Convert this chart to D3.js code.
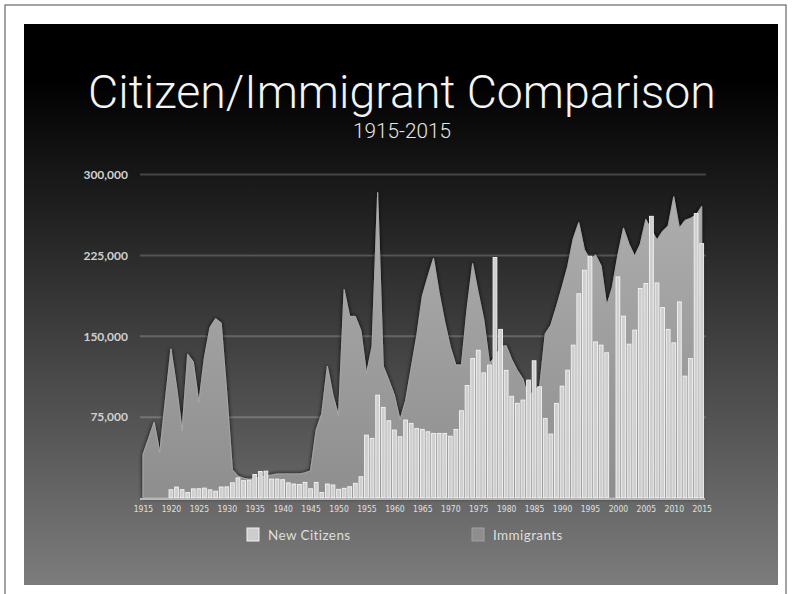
<!DOCTYPE html>
<html>
<head>
<meta charset="utf-8">
<script src="https://cdn.jsdelivr.net/npm/d3@7"></script>
<style>
  html, body { margin: 0; padding: 0; background: #fff; }
  svg { display: block; }
</style>
</head>
<body>
<svg id="chart" width="793" height="594"></svg>
<script>
const years = [1915,1916,1917,1918,1919,1920,1921,1922,1923,1924,1925,1926,1927,1928,1929,1930,1931,1932,1933,1934,1935,1936,1937,1938,1939,1940,1941,1942,1943,1944,1945,1946,1947,1948,1949,1950,1951,1952,1953,1954,1955,1956,1957,1958,1959,1960,1961,1962,1963,1964,1965,1966,1967,1968,1969,1970,1971,1972,1973,1974,1975,1976,1977,1978,1979,1980,1981,1982,1983,1984,1985,1986,1987,1988,1989,1990,1991,1992,1993,1994,1995,1996,1997,1998,1999,2000,2001,2002,2003,2004,2005,2006,2007,2008,2009,2010,2011,2012,2013,2014,2015];

const newCitizens = [0,0,0,0,0,
 7400,9900,7500,4800,8200,8300,8900,7300,6100,9900,
 10000,13800,18300,15800,16300,21500,24300,24600,17300,17300,
 16700,13800,12700,12300,14200,8300,14200,4800,12700,11800,
 7800,8700,10200,13300,19400,58000,55000,95000,83700,71300,
 62700,56500,72000,68900,64200,63300,61100,59600,59600,59600,
 57000,63300,80600,104000,129000,136700,115700,122900,222600,156000,
 118000,94000,87500,90500,109000,126900,102800,73500,59000,87400,
 103400,118200,141400,189000,210800,223800,144400,141400,134300,null,
 204600,168300,142300,155300,193900,198500,260800,199000,176200,156000,
 143500,181500,112700,129000,263300,235500];

const immigrants = [40000,55000,70000,42000,90000,
 138000,103000,62000,133000,126000,88000,130000,158000,166000,162000,
 97000,26000,20000,18000,17000,18000,19000,20000,21000,22000,
 22000,22000,22000,22000,23000,25000,63000,78000,122000,95000,
 76000,193000,168000,168000,155000,115000,140000,283000,122000,109000,
 95000,72000,90000,120000,150000,187000,205000,222000,190000,163000,
 140000,123000,123000,175000,217000,190000,165000,125000,130000,140000,
 141000,128000,118000,110000,92000,100000,103000,152000,160000,177000,
 195000,214000,240000,255000,230000,221000,225000,215000,178000,195000,
 225000,250000,235000,224000,235000,258000,248000,239000,247000,252000,
 279000,250000,257000,259000,262000,270000];

const yTicks = [75000, 150000, 225000, 300000];
const xTickYears = [1915,1920,1925,1930,1935,1940,1945,1950,1955,1960,1965,1970,1975,1980,1985,1990,1995,2000,2005,2010,2015];
const seriesNames = ["New Citizens", "Immigrants"];
const titleText = "Citizen/Immigrant Comparison";
const subtitleText = "1915-2015";

const svg = d3.select("#chart");
const defs = svg.append("defs");

const bg = defs.append("linearGradient").attr("id","bgGrad").attr("x1",0).attr("y1",0).attr("x2",0).attr("y2",1);
bg.append("stop").attr("offset","0%").attr("stop-color","#000");
bg.append("stop").attr("offset","10%").attr("stop-color","#000");
bg.append("stop").attr("offset","100%").attr("stop-color","#7c7c7c");

const ag = defs.append("linearGradient").attr("id","areaGrad").attr("gradientUnits","userSpaceOnUse")
  .attr("x1",0).attr("y1",174).attr("x2",0).attr("y2",498);
ag.append("stop").attr("offset","0%").attr("stop-color","#b0b0b0");
ag.append("stop").attr("offset","100%").attr("stop-color","#8e8e8e");

const sh = defs.append("filter").attr("id","shadow").attr("x","-5%").attr("y","-10%").attr("width","110%").attr("height","120%");
sh.append("feGaussianBlur").attr("in","SourceAlpha").attr("stdDeviation",2.2).attr("result","blur");
sh.append("feComponentTransfer").attr("in","blur").attr("result","dark")
  .append("feFuncA").attr("type","linear").attr("slope",0.9);
const m = sh.append("feMerge");
m.append("feMergeNode").attr("in","dark");
m.append("feMergeNode").attr("in","SourceGraphic");

// frame
svg.append("rect").attr("x",5).attr("y",5).attr("width",781).attr("height",600)
  .attr("fill","#fff").attr("stroke","#666").attr("stroke-width",1.2);
svg.append("rect").attr("x",24).attr("y",24).attr("width",754).attr("height",561)
  .attr("fill","url(#bgGrad)");

// scales
const x = d3.scaleBand().domain(years).range([140.2, 704.5]).paddingInner(0.32).paddingOuter(0.16);
const xc = d => x(d) + x.bandwidth()/2;
const y = d3.scaleLinear().domain([0, 300000]).range([497.7, 174]);

// gridlines
const grid = svg.append("g")
  .call(d3.axisLeft(y).tickValues(yTicks).tickSize(-566).tickFormat(""))
  .attr("transform","translate(140,0)");
grid.select(".domain").remove();
grid.selectAll("line").attr("stroke","#fff").attr("stroke-opacity",0.2).attr("stroke-width",2);

// immigrants area
const area = d3.area()
  .x((d,i) => xc(years[i]))
  .y0(y(0))
  .y1(d => y(d))
  .curve(d3.curveLinear);
svg.append("path").datum(immigrants)
  .attr("d", area)
  .attr("fill","url(#areaGrad)")
  .attr("stroke","#a8a8a8").attr("stroke-width",1).attr("stroke-linejoin","round")
  .attr("filter","url(#shadow)");

// new citizens bars
const barData = years.map((yr,i) => ({year: yr, v: newCitizens[i]})).filter(d => d.v != null && d.v > 0);
svg.append("g").selectAll("rect").data(barData).join("rect")
  .attr("x", d => x(d.year))
  .attr("y", d => y(d.v))
  .attr("width", x.bandwidth())
  .attr("height", d => y(0) - y(d.v))
  .attr("fill","#cfcfcf")
  .attr("stroke","#f4f4f4")
  .attr("stroke-width",0.9);

// baseline
svg.append("line").attr("x1",140).attr("x2",705).attr("y1",499).attr("y2",499)
  .attr("stroke","#b8b8b8").attr("stroke-width",2);

// y axis labels
const yAx = svg.append("g").attr("transform","translate(128,0)")
  .call(d3.axisLeft(y).tickValues(yTicks).tickSize(0).tickPadding(0).tickFormat(d3.format(",")));
yAx.select(".domain").remove();
yAx.selectAll("text").attr("fill","#d0d0d0").style("font-family","Lato, 'DejaVu Sans', sans-serif")
  .style("font-size","12px").style("font-weight","bold").attr("dy","0.35em");

// x axis labels
const xAx = svg.append("g").attr("transform","translate(0,500)")
  .call(d3.axisBottom(d3.scaleLinear().domain([1915,2015]).range([xc(1915), xc(2015)]))
    .tickValues(xTickYears).tickSize(0).tickPadding(6).tickFormat(d => String(d)));
xAx.select(".domain").remove();
xAx.selectAll("text").attr("fill","#e0e0e0").style("font-family","'Liberation Sans Narrow', 'DejaVu Sans Condensed', Lato, sans-serif")
  .style("font-size","8.5px");

// title
const title = svg.append("text").attr("x",402).attr("y",108).attr("text-anchor","middle")
  .attr("fill","#f4f4f4").style("font-family","Roboto, 'Open Sans', sans-serif").style("font-weight","300")
  .style("font-size","44px").text(titleText);
const tw = title.node().getComputedTextLength();
title.style("font-size", (44 * 628 / tw).toFixed(2) + "px");

const sub = svg.append("text").attr("x",402).attr("y",138).attr("text-anchor","middle")
  .attr("fill","#e6e6e6").style("font-family","Roboto, 'Open Sans', sans-serif").style("font-weight","300")
  .style("font-size","16px").text(subtitleText);
const sw = sub.node().getComputedTextLength();
sub.style("font-size", (16 * 98 / sw).toFixed(2) + "px");

// legend
const legend = svg.append("g");
const legX = [247, 472];
const legFill = ["#cdcdcd", "#8e8e8e"];
const legStroke = ["#f0f0f0", "#a0a0a0"];
seriesNames.forEach((name, i) => {
  legend.append("rect").attr("x", legX[i]).attr("y", 528).attr("width", 12).attr("height", 13)
    .attr("fill", legFill[i]).attr("stroke", legStroke[i]).attr("stroke-width", 1);
  legend.append("text").attr("x", legX[i] + 21).attr("y", 539.5)
    .attr("fill","#dedede").style("font-family","Lato, 'DejaVu Sans', sans-serif")
    .style("font-size","13.5px").style("letter-spacing","0.4px").text(name);
});
</script>
</body>
</html>
